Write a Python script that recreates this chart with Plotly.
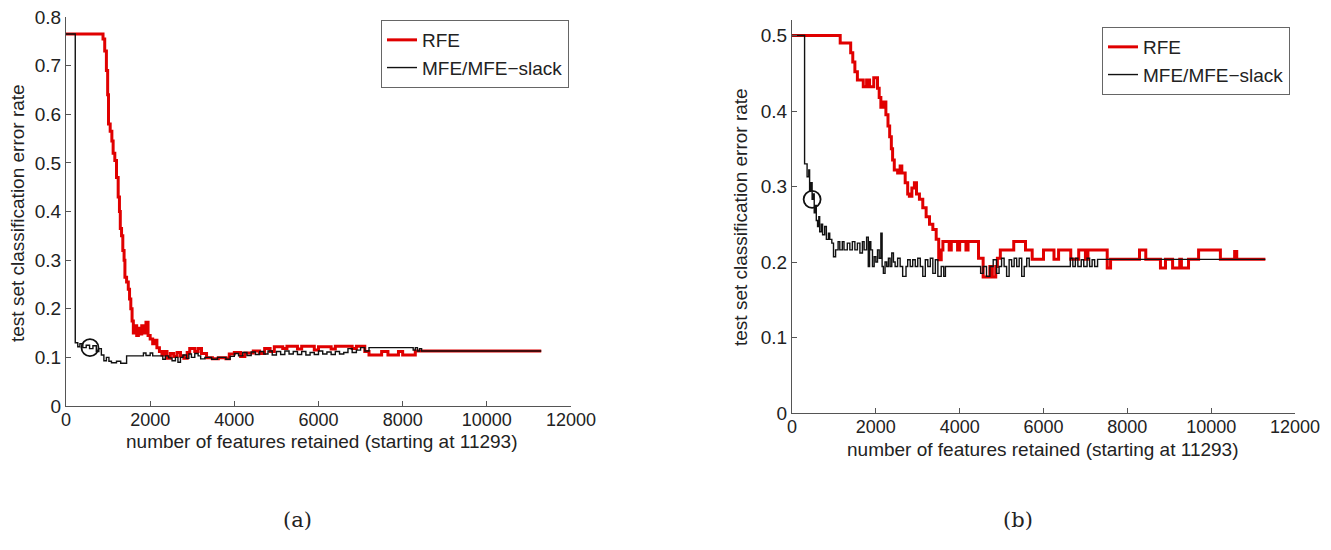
import plotly.graph_objects as go

# ---------------- data: panel (a) ----------------
rfe_a_x = [0, 880, 920, 960, 990, 1010, 1050, 1090, 1120, 1160, 1200, 1240, 1270, 1290, 1320, 1350,
           1380, 1400, 1440, 1480, 1510, 1540, 1570, 1600, 1640, 1680, 1720, 1760, 1800, 1850, 1900,
           1950, 2000, 2060, 2120, 2160, 2220, 2280, 2340, 2400, 2480, 2560, 2640, 2720, 2800, 2880,
           2940, 3060, 3140, 3220, 3340, 3480, 3620, 3800, 3880, 4000, 4150, 4250, 4450, 4600, 4720,
           4850, 4950, 5150, 5250, 5500, 5600, 5900, 6000, 6300, 6400, 6800, 6900, 7100, 7200, 7500,
           7650, 7900, 8000, 8300, 11293]
rfe_a_y = [0.765, 0.755, 0.73, 0.69, 0.64, 0.58, 0.565, 0.545, 0.52, 0.505, 0.47, 0.43, 0.40, 0.365,
           0.35, 0.32, 0.30, 0.265, 0.255, 0.24, 0.22, 0.20, 0.175, 0.15, 0.165, 0.145, 0.16, 0.148,
           0.165, 0.15, 0.172, 0.145, 0.138, 0.128, 0.135, 0.12, 0.112, 0.105, 0.112, 0.098, 0.108,
           0.102, 0.11, 0.103, 0.098, 0.11, 0.118, 0.112, 0.118, 0.108, 0.099, 0.097, 0.099, 0.097,
           0.107, 0.11, 0.102, 0.109, 0.113, 0.108, 0.118, 0.112, 0.122, 0.118, 0.123, 0.117, 0.123,
           0.115, 0.122, 0.117, 0.123, 0.118, 0.123, 0.112, 0.105, 0.112, 0.105, 0.112, 0.105, 0.113,
           0.113]

mfe_a_x = [0, 220, 280, 330, 400, 480, 560, 640, 720, 780, 840, 900, 960, 1020, 1080, 1200, 1300,
           1440, 1840, 1900, 2000, 2060, 2300, 2360, 2440, 2520, 2600, 2660, 2720, 2780, 2860, 2920,
           2980, 3060, 3140, 3200, 3300, 3460, 3600, 3800, 3900, 4000, 4100, 4200, 4300, 4400, 4500,
           4600, 4700, 4800, 4900, 5000, 5100, 5200, 5300, 5400, 5500, 5600, 5700, 5800, 5900, 6000,
           6100, 6200, 6300, 6400, 6500, 6600, 6700, 6800, 6900, 7000, 7100, 7200, 8250, 8300, 8350,
           8400, 8450, 11293]
mfe_a_y = [0.765, 0.13, 0.122, 0.128, 0.12, 0.125, 0.118, 0.124, 0.112, 0.118, 0.105, 0.093, 0.1,
           0.092, 0.089, 0.092, 0.088, 0.103, 0.109, 0.104, 0.109, 0.103, 0.096, 0.103, 0.099, 0.093,
           0.1, 0.09, 0.1, 0.105, 0.098, 0.107, 0.1, 0.108, 0.103, 0.097, 0.1, 0.096, 0.1, 0.096,
           0.102, 0.108, 0.103, 0.11, 0.104, 0.111, 0.106, 0.112, 0.107, 0.113, 0.105, 0.112, 0.106,
           0.113, 0.107, 0.112, 0.106, 0.112, 0.105, 0.11, 0.106, 0.113, 0.107, 0.111, 0.106, 0.112,
           0.107, 0.11, 0.118, 0.11, 0.115, 0.12, 0.113, 0.12, 0.115, 0.12, 0.113, 0.118, 0.113, 0.113]

best_a_x = [570]
best_a_y = [0.12]

# ---------------- data: panel (b) ----------------
rfe_b_x = [0, 1150, 1400, 1450, 1500, 1560, 1700, 1780, 1850, 1950, 2040, 2080, 2120, 2180, 2240,
           2290, 2330, 2370, 2400, 2440, 2520, 2580, 2620, 2700, 2760, 2800, 2860, 2920, 2970, 3040,
           3120, 3200, 3280, 3360, 3440, 3500, 3560, 3600, 3750, 3800, 3950, 4000, 4150, 4200, 4450,
           4560, 4720, 4780, 4860, 4900, 4970, 5290, 5570, 5730, 6000, 6250, 6360, 6650, 6840, 7000,
           7060, 7520, 7600, 8290, 8440, 8790, 8910, 9080, 9250, 9290, 9460, 9700, 10220, 10560,
           10610, 11293]
rfe_b_y = [0.5, 0.49, 0.477, 0.465, 0.452, 0.441, 0.432, 0.441, 0.432, 0.444, 0.43, 0.418, 0.405,
           0.412, 0.395, 0.38, 0.366, 0.35, 0.335, 0.322, 0.318, 0.327, 0.318, 0.305, 0.29, 0.287,
           0.298, 0.305, 0.29, 0.283, 0.272, 0.26, 0.25, 0.243, 0.23, 0.203, 0.216, 0.227, 0.216,
           0.227, 0.216, 0.227, 0.216, 0.227, 0.205, 0.18, 0.194, 0.18, 0.194, 0.205, 0.216, 0.227,
           0.216, 0.2035, 0.216, 0.2035, 0.216, 0.2035, 0.216, 0.2035, 0.216, 0.192, 0.2035, 0.216,
           0.2035, 0.192, 0.2035, 0.192, 0.2035, 0.192, 0.2035, 0.216, 0.2035, 0.214, 0.2035, 0.2035]

mfe_b_x = [0, 300, 360, 400, 420, 450, 480, 510, 530, 560, 580, 610, 640, 660, 700, 730, 780, 820,
           870, 900, 950, 990, 1040, 1100, 1140, 1200, 1240, 1320, 1380, 1440, 1500, 1560, 1620, 1680,
           1720, 1780, 1820, 1850, 1880, 1920, 1960, 2000, 2040, 2080, 2120, 2150, 2180, 2220, 2260,
           2300, 2340, 2380, 2420, 2460, 2520, 2580, 2640, 2720, 2760, 2820, 2880, 2940, 3000, 3060,
           3120, 3180, 3240, 3300, 3360, 3420, 3480, 3560, 3620, 3660, 4500, 4560, 4640, 4720, 4800,
           4880, 4940, 5000, 5060, 5120, 5180, 5240, 5300, 5360, 5420, 5480, 5540, 5600, 5660, 6640,
           6700, 6760, 6820, 6900, 6960, 7040, 7100, 7160, 7220, 7290, 11293]
mfe_b_y = [0.5, 0.33, 0.313, 0.322, 0.295, 0.305, 0.283, 0.29, 0.265, 0.275, 0.255, 0.247, 0.26,
           0.24, 0.25, 0.236, 0.247, 0.23, 0.238, 0.23, 0.225, 0.207, 0.216, 0.227, 0.216, 0.227,
           0.216, 0.225, 0.216, 0.227, 0.216, 0.225, 0.212, 0.227, 0.216, 0.233, 0.194, 0.227, 0.216,
           0.194, 0.207, 0.2, 0.216, 0.205, 0.238, 0.194, 0.185, 0.2, 0.194, 0.205, 0.194, 0.212, 0.2,
           0.194, 0.205, 0.194, 0.181, 0.194, 0.203, 0.194, 0.203, 0.194, 0.205, 0.194, 0.181, 0.203,
           0.194, 0.205, 0.185, 0.203, 0.181, 0.194, 0.181, 0.194, 0.185, 0.194, 0.181, 0.194, 0.203,
           0.185, 0.194, 0.205, 0.194, 0.181, 0.203, 0.194, 0.205, 0.194, 0.205, 0.181, 0.194, 0.205,
           0.194, 0.205, 0.194, 0.205, 0.194, 0.203, 0.194, 0.205, 0.194, 0.203, 0.194, 0.2035, 0.2035]

best_b_x = [480]
best_b_y = [0.283]

x_ticks = [0, 2000, 4000, 6000, 8000, 10000, 12000]
y_ticks_a = [0, 0.1, 0.2, 0.3, 0.4, 0.5, 0.6, 0.7, 0.8]
y_ticks_b = [0, 0.1, 0.2, 0.3, 0.4, 0.5]
x_title = "number of features retained (starting at 11293)"
y_title = "test set classification error rate"
captions = ["(a)", "(b)"]

# ---------------- figure ----------------
RED = "#e00000"
BLK = "#111111"
fig = go.Figure()

fig.add_trace(go.Scatter(x=rfe_a_x, y=rfe_a_y, mode="lines", line=dict(color=RED, width=3, shape="hv"),
                         name="RFE", xaxis="x", yaxis="y", legend="legend"))
fig.add_trace(go.Scatter(x=mfe_a_x, y=mfe_a_y, mode="lines", line=dict(color=BLK, width=1.4, shape="hv"),
                         name="MFE/MFE\u2212slack", xaxis="x", yaxis="y", legend="legend"))
fig.add_trace(go.Scatter(x=best_a_x, y=best_a_y, mode="markers", showlegend=False,
                         marker=dict(symbol="circle-open", size=17, color=BLK, line=dict(width=1.8)),
                         xaxis="x", yaxis="y"))

fig.add_trace(go.Scatter(x=rfe_b_x, y=rfe_b_y, mode="lines", line=dict(color=RED, width=3, shape="hv"),
                         name="RFE", xaxis="x2", yaxis="y2", legend="legend2"))
fig.add_trace(go.Scatter(x=mfe_b_x, y=mfe_b_y, mode="lines", line=dict(color=BLK, width=1.4, shape="hv"),
                         name="MFE/MFE\u2212slack", xaxis="x2", yaxis="y2", legend="legend2"))
fig.add_trace(go.Scatter(x=best_b_x, y=best_b_y, mode="markers", showlegend=False,
                         marker=dict(symbol="circle-open", size=17, color=BLK, line=dict(width=1.8)),
                         xaxis="x2", yaxis="y2"))

FONT = "Liberation Sans, Arial, sans-serif"
SERIF = "DejaVu Serif, Liberation Serif, serif"
TXT = "#222222"
axis_common = dict(showline=True, linecolor="#555555", linewidth=1, ticks="inside", ticklen=5,
                   tickcolor="#555555", showgrid=False, zeroline=False, mirror=False,
                   automargin=False, ticklabeloverflow="allow")
xfont = dict(family=FONT, size=18, color=TXT)
yfont = dict(family=FONT, size=19, color=TXT)

# page body has an 8px margin; figure sized so the page fills the 1331x550 window
OFF = 8
W, H = 1331 - 2 * OFF, 550 - 2 * OFF
def px_x(p):
    return (p - OFF) / W
def px_y(p):
    return 1 - (p - OFF) / H

def ann(text, x, y, size, family=FONT, angle=0):
    return dict(text=text, x=px_x(x), y=px_y(y), xref="paper", yref="paper", showarrow=False,
                textangle=angle, xanchor="center", yanchor="middle",
                font=dict(family=family, size=size, color=TXT))

fig.update_layout(
    width=W, height=H,
    margin=dict(l=0, r=0, t=0, b=0),
    paper_bgcolor="white", plot_bgcolor="white",
    font=dict(family=FONT, color=TXT),
    xaxis=dict(domain=[px_x(66), px_x(571)], range=[0, 12000], tickvals=x_ticks, tickformat="d",
               anchor="y", tickfont=xfont, ticklabelstandoff=-3, **axis_common),
    yaxis=dict(domain=[px_y(406), px_y(17)], range=[0, 0.8], tickvals=y_ticks_a, anchor="x",
               tickfont=yfont, **axis_common),
    xaxis2=dict(domain=[px_x(792), px_x(1295)], range=[0, 12000], tickvals=x_ticks, tickformat="d",
                anchor="y2", tickfont=xfont, ticklabelstandoff=-3, **axis_common),
    yaxis2=dict(domain=[px_y(413), px_y(20.4)], range=[0, 0.52], tickvals=y_ticks_b, anchor="x2",
                tickfont=yfont, **axis_common),
    legend=dict(x=px_x(569), y=px_y(20), xanchor="right", yanchor="top", bgcolor="white",
                bordercolor="#666666", borderwidth=1, font=dict(family=FONT, size=19, color=TXT),
                tracegroupgap=0, itemwidth=30),
    legend2=dict(x=px_x(1290), y=px_y(27), xanchor="right", yanchor="top", bgcolor="white",
                 bordercolor="#666666", borderwidth=1, font=dict(family=FONT, size=19, color=TXT),
                 tracegroupgap=0, itemwidth=30),
    annotations=[
        ann(x_title, 322, 441, 19),
        ann(x_title, 1043, 449, 19),
        ann(y_title, 18, 213, 19, angle=-90),
        ann(y_title, 741, 217, 19, angle=-90),
        ann(captions[0], 297, 520, 21, family=SERIF),
        ann(captions[1], 1018, 520, 21, family=SERIF),
    ],
)

fig.write_html("out.html")
